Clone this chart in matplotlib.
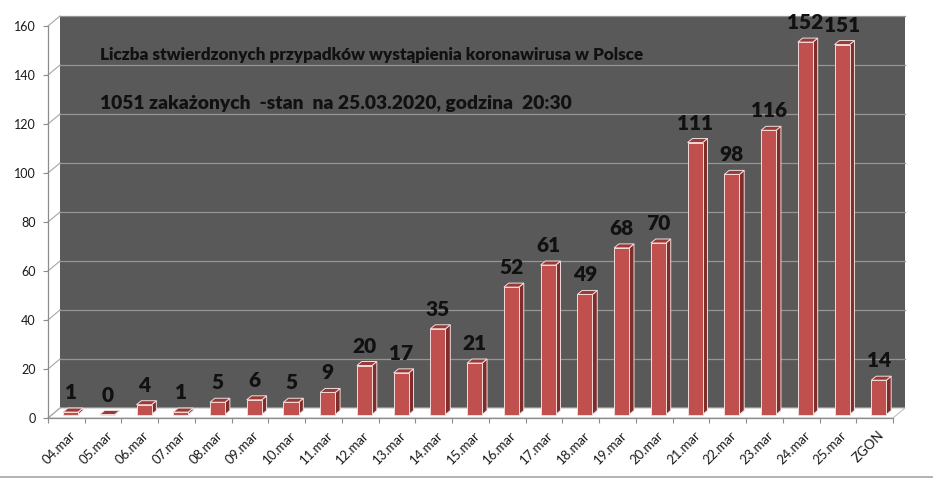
import matplotlib
matplotlib.use('Agg')
import matplotlib.pyplot as plt
from matplotlib.patches import Polygon
from matplotlib.lines import Line2D

plt.rcParams['font.family'] = ['Lato', 'DejaVu Sans']

# data
days = ['04.mar', '05.mar', '06.mar', '07.mar', '08.mar', '09.mar', '10.mar',
        '11.mar', '12.mar', '13.mar', '14.mar', '15.mar', '16.mar', '17.mar',
        '18.mar', '19.mar', '20.mar', '21.mar', '22.mar', '23.mar', '24.mar',
        '25.mar', 'ZGON']
cases = [1, 0, 4, 1, 5, 6, 5, 9, 20, 17, 35, 21, 52, 61, 49, 68, 70, 111,
         98, 116, 152, 151, 14]
yticks = [0, 20, 40, 60, 80, 100, 120, 140, 160]

title1 = 'Liczba stwierdzonych przypadków wystąpienia koronawirusa w Polsce'
title2 = '1051 zakażonych  -stan  na 25.03.2020, godzina  20:30'

W, H = 933, 478
fig = plt.figure(figsize=(W / 100, H / 100), dpi=100)
fig.patch.set_facecolor('white')

# front plane of the 3d chart, in pixels
x_left, x_right = 48, 893
y_zero, y_top = 418, 26
ax = fig.add_axes([x_left / W, (H - y_zero) / H,
                   (x_right - x_left) / W, (y_zero - y_top) / H])
n = len(days)
ax.set_xlim(0, n)
ax.set_ylim(0, 160)
ax.patch.set_alpha(0)

# depth of the 3d box (12 px right, 10 px up)
px_x = n / (x_right - x_left)
px_y = 160 / (y_zero - y_top)
dx, dy = 12 * px_x, 10 * px_y

wall_col = '#595959'
grid_col = '#959595'
axis_col = '#8c8c8c'
BOLD = 800

# back wall
ax.add_patch(Polygon([(dx, dy), (n + dx, dy), (n + dx, 160 + dy), (dx, 160 + dy)],
                     closed=True, facecolor=wall_col, edgecolor='none',
                     clip_on=False, zorder=0))
# floor
ax.add_patch(Polygon([(0, 0), (n, 0), (n + dx, dy), (dx, dy)], closed=True,
                     facecolor='white', edgecolor='#bfbfbf', lw=0.8,
                     clip_on=False, zorder=1))
# gridlines on back wall and side wall
for v in yticks[1:]:
    ax.plot([dx, n + dx], [v + dy, v + dy], color=grid_col, lw=0.9,
            clip_on=False, zorder=1)
for v in yticks:
    ax.plot([0, dx], [v, v + dy], color='#a6a6a6', lw=0.8,
            clip_on=False, zorder=1)

# bars
w = 0.41
f0, f1 = 0.35, 0.75
face = '#c0504d'
side = '#7f2d2b'
top = '#9a3a37'
edge = '#f2dcdb'
for i, v in enumerate(cases):
    x0 = i + 0.5 - w / 2 + f0 * dx
    x1 = x0 + w
    yb = f0 * dy
    ddx, ddy = (f1 - f0) * dx, (f1 - f0) * dy
    ax.add_patch(Polygon([(x1, yb), (x1 + ddx, yb + ddy), (x1 + ddx, v + yb + ddy),
                          (x1, v + yb)], closed=True, facecolor=side,
                         edgecolor=edge, lw=0.7, clip_on=False, zorder=3))
    ax.add_patch(Polygon([(x0, v + yb), (x1, v + yb), (x1 + ddx, v + yb + ddy),
                          (x0 + ddx, v + yb + ddy)], closed=True, facecolor=top,
                         edgecolor=edge, lw=0.7, clip_on=False, zorder=3))
    ax.add_patch(Polygon([(x0, yb), (x1, yb), (x1, v + yb), (x0, v + yb)],
                         closed=True, facecolor=face, edgecolor=edge, lw=0.7,
                         clip_on=False, zorder=3))
    ax.text((x0 + x1) / 2, v + yb + 5.3, str(v), ha='center',
            va='baseline', fontsize=15, fontweight=BOLD, color='#111111',
            zorder=5, clip_on=False)

# axes
for s in ['top', 'right']:
    ax.spines[s].set_visible(False)
for s in ['left', 'bottom']:
    ax.spines[s].set_color(axis_col)
    ax.spines[s].set_linewidth(0.9)
ax.set_yticks(yticks)
ax.set_yticklabels([str(v) for v in yticks], fontsize=9, color='#1a1a1a')
ax.tick_params(axis='y', length=3.5, color=axis_col, pad=5.5)
ax.set_xticks(range(n + 1))
ax.set_xticklabels([])
ax.tick_params(axis='x', length=3.5, color=axis_col)
for i, d in enumerate(days):
    ax.annotate(d, xy=(i + 0.5, 0), xytext=(2, -8), textcoords='offset points',
                rotation=45, ha='right', va='top', rotation_mode='anchor',
                fontsize=9.5, color='#1a1a1a', annotation_clip=False)

# text in the chart
fig.text(100 / W, 1 - 55 / H, title1, ha='left', va='center', fontsize=12.3,
         fontweight=BOLD, color='#111111')
fig.text(100 / W, 1 - 103 / H, title2, ha='left', va='center', fontsize=13.9,
         fontweight=BOLD, color='#111111')

# chart border at the bottom
fig.add_artist(Line2D([0, 1], [1.5 / H, 1.5 / H], transform=fig.transFigure,
                      color='#a6a6a6', lw=1.2))

fig.savefig('out.png', dpi=100)
